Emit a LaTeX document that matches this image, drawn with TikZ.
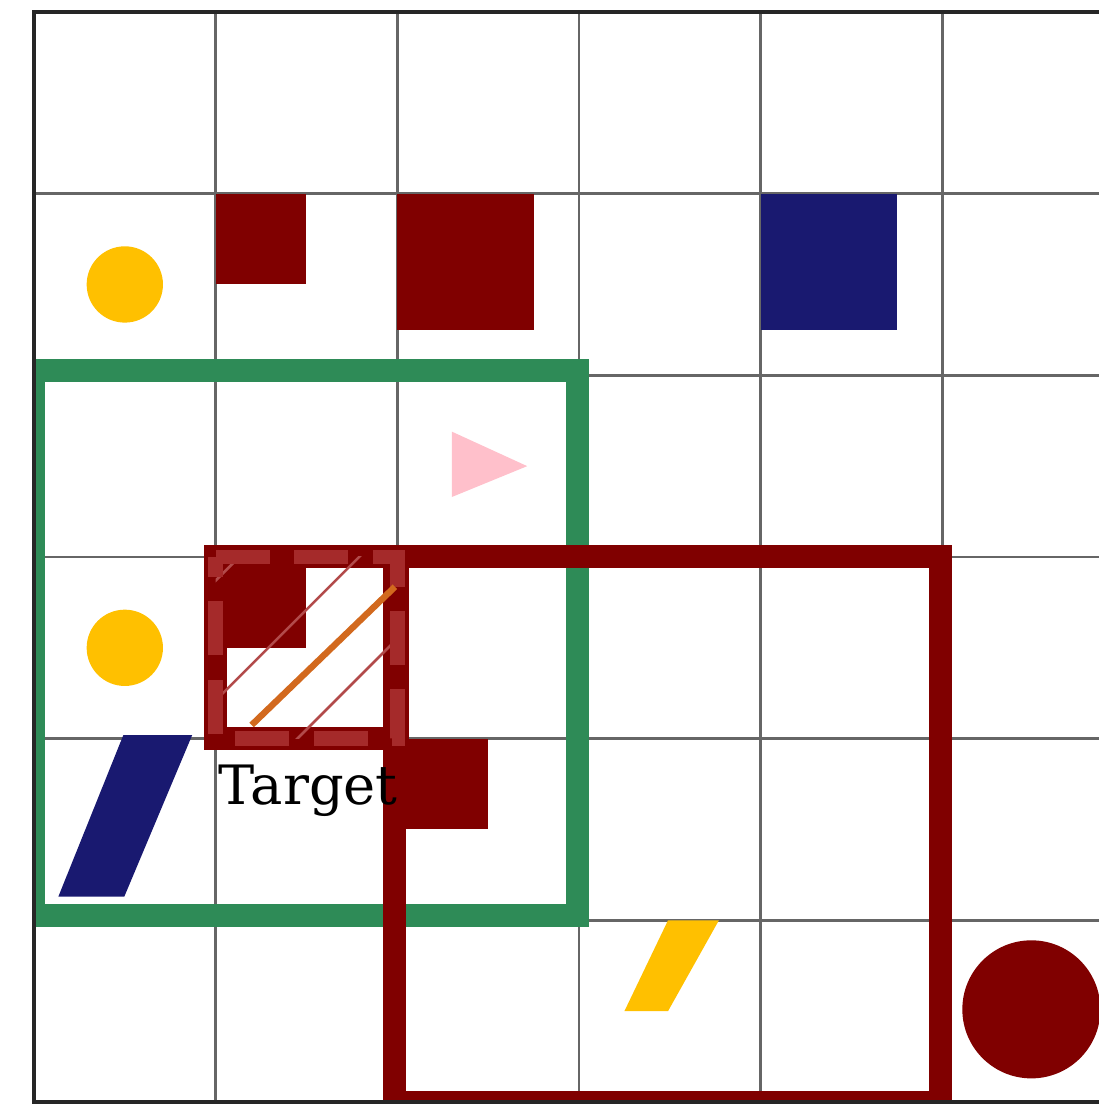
\documentclass[tikz,border=0pt]{standalone}
\usepackage{fontspec}
\usepackage{tikz}
\usetikzlibrary{positioning}
\newfontfamily\labelfont{DejaVu Serif}
\definecolor{darkred}{RGB}{128,0,0}
\definecolor{navy}{RGB}{25,25,112}
\definecolor{seagreen}{RGB}{46,139,87}
\definecolor{amber}{RGB}{255,192,0}
\definecolor{softpink}{RGB}{255,192,203}
\definecolor{brownred}{RGB}{165,42,42}
\definecolor{chocolate}{RGB}{210,105,30}

\begin{document}
\begin{tikzpicture}[
  gridline/.style={draw=black!60, line width=0.4pt},
  outline/.style={draw=black!85, line width=0.6pt},
  frame/.style={line width=3.6pt},
  dashframe/.style={draw=brownred, line width=2.3pt, dash pattern=on 8.5pt off 3.8pt},
  hatch/.style={draw=brownred!85, line width=0.4pt},
  label/.style={font=\labelfont\fontsize{8.5}{10}\selectfont, inner sep=0pt}]
  \useasboundingbox (-0.187,-0.022) rectangle (5.861,6.066);
  \foreach \i in {1,...,5} \draw[gridline] (\i,0) -- (\i,6);
  \foreach \j in {1,...,5} \draw[gridline] (0,\j) -- (6,\j);
  \begin{scope}
    \clip (0,0) rectangle (6,6);
    \foreach \y in {4.5,2.5} \fill[amber] (0.5,\y) circle (0.21);
    \fill[darkred] (1,4.5) rectangle (1.5,5);
    \fill[darkred] (2,4.25) rectangle (2.75,5);
    \fill[navy] (4,4.25) rectangle (4.75,5);
    \fill[darkred] (1,2.5) rectangle (1.5,3);
    \fill[darkred] (2,1.5) rectangle (2.5,2);
    \fill[softpink] (2.30,3.69) -- (2.30,3.33) -- (2.715,3.50) -- cycle;
    \fill[navy] (0.134,1.13) -- (0.497,1.13) -- (0.871,2.02) -- (0.492,2.02) -- cycle;
    \fill[amber] (3.25,0.5) -- (3.49,0.5) -- (3.77,1.0) -- (3.49,1.0) -- cycle;
    \fill[darkred] (5.49,0.51) circle (0.38);
    \draw[seagreen, frame] (0,1.025) rectangle (2.99,4.025);
    \draw[darkred, frame] (1.985,0) rectangle (4.99,3.0);
    % target cell
    \draw[darkred, frame] (1,2) rectangle (2,3);
    \begin{scope}
      \clip (1,2) rectangle (2,3);
      \foreach \c in {-1.87,-1.21,-0.55} \draw[hatch] (0,-\c) -- (3,3-\c);
    \end{scope}
    \draw[dashframe] (1,3) -- (2,3) -- (2,2) -- (1,2) -- cycle;
    \coordinate (diag1) at (1.198,2.075);
    \coordinate (diag2) at (1.987,2.836);
    \draw[chocolate, line width=1pt] (diag1) -- (diag2);
  \end{scope}
  \draw[outline] (6,6) -- (0,6) -- (0,0) -- (6,0);
  \node[label, anchor=base] (target) at (1.51,1.635) {Target};
\end{tikzpicture}
\end{document}
